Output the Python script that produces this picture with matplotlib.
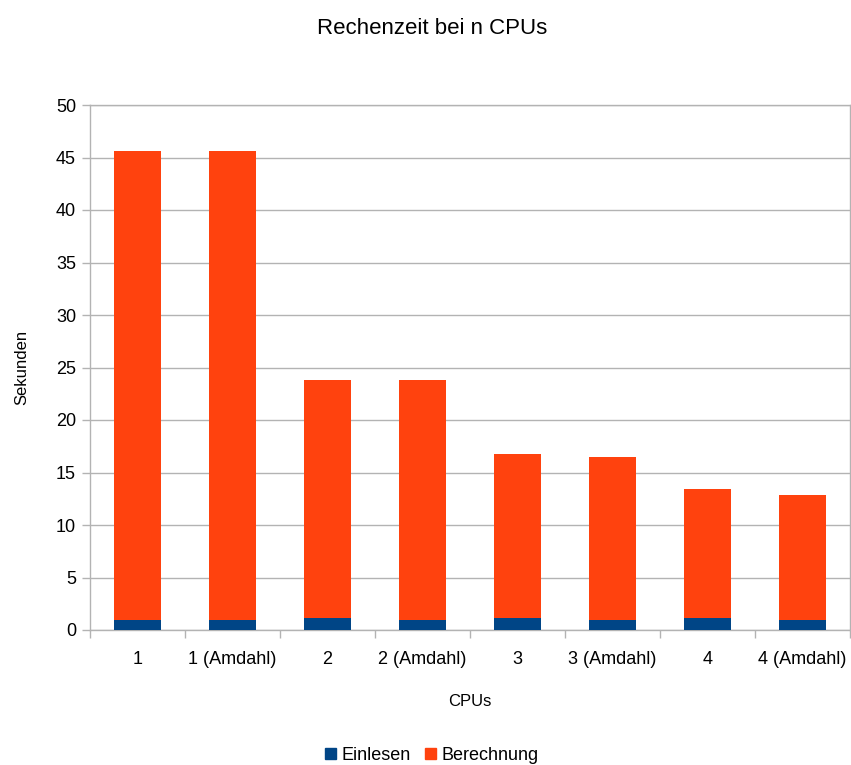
import matplotlib.pyplot as plt
from matplotlib.patches import Patch

plt.rcParams["font.family"] = ["Liberation Sans", "DejaVu Sans"]

CATEGORIES = ["1", "1 (Amdahl)", "2", "2 (Amdahl)", "3", "3 (Amdahl)", "4", "4 (Amdahl)"]
TOTAL = [45.6, 45.6, 23.8, 23.8, 16.8, 16.5, 13.4, 12.85]
EINLESEN = [0.95, 0.95, 1.1, 0.95, 1.1, 0.95, 1.1, 0.95]
BERECHNUNG = [t - e for t, e in zip(TOTAL, EINLESEN)]

BLUE = "#004586"
ORANGE = "#ff420e"
GRID = "#b3b3b3"


def main():
    fig = plt.figure(figsize=(8.51, 7.65), dpi=100)
    ax = fig.add_axes([90 / 851, 1 - 630 / 765, 760 / 851, 525 / 765])

    x = list(range(len(CATEGORIES)))
    ax.bar(x, EINLESEN, width=0.5, color=BLUE, zorder=3)
    ax.bar(x, BERECHNUNG, width=0.5, bottom=EINLESEN, color=ORANGE, zorder=3)

    ax.set_xlim(-0.5, len(CATEGORIES) - 0.5)
    ax.set_ylim(0, 50)
    ax.set_yticks(range(0, 51, 5))
    ax.set_xticks(x)
    ax.set_xticklabels(CATEGORIES)
    ax.set_xticks([i - 0.5 for i in range(len(CATEGORIES) + 1)], minor=True)
    ax.tick_params(axis="x", which="major", length=0, pad=15, labelsize=13)
    ax.tick_params(axis="x", which="minor", length=6, color=GRID, width=1)
    ax.tick_params(axis="y", length=6, color=GRID, width=1, pad=4, labelsize=13)

    ax.yaxis.grid(True, color=GRID, linewidth=1, zorder=0)
    ax.set_axisbelow(True)
    for s in ax.spines.values():
        s.set_color(GRID)
        s.set_linewidth(1)

    ax.set_xlabel("CPUs", fontsize=12, labelpad=19)
    ax.set_ylabel("Sekunden", fontsize=12, labelpad=19)
    fig.suptitle("Rechenzeit bei n CPUs", fontsize=16, y=0.977, x=432 / 851)

    handles = [Patch(color=BLUE, label="Einlesen"), Patch(color=ORANGE, label="Berechnung")]
    fig.legend(handles=handles, loc="lower center", bbox_to_anchor=(432 / 851, -0.02),
               ncol=2, frameon=False, fontsize=13, handlelength=0.6, handleheight=0.6,
               handletextpad=0.3, columnspacing=0.8)

    fig.savefig("out.png", dpi=100)
    plt.close(fig)


if __name__ == "__main__":
    main()
